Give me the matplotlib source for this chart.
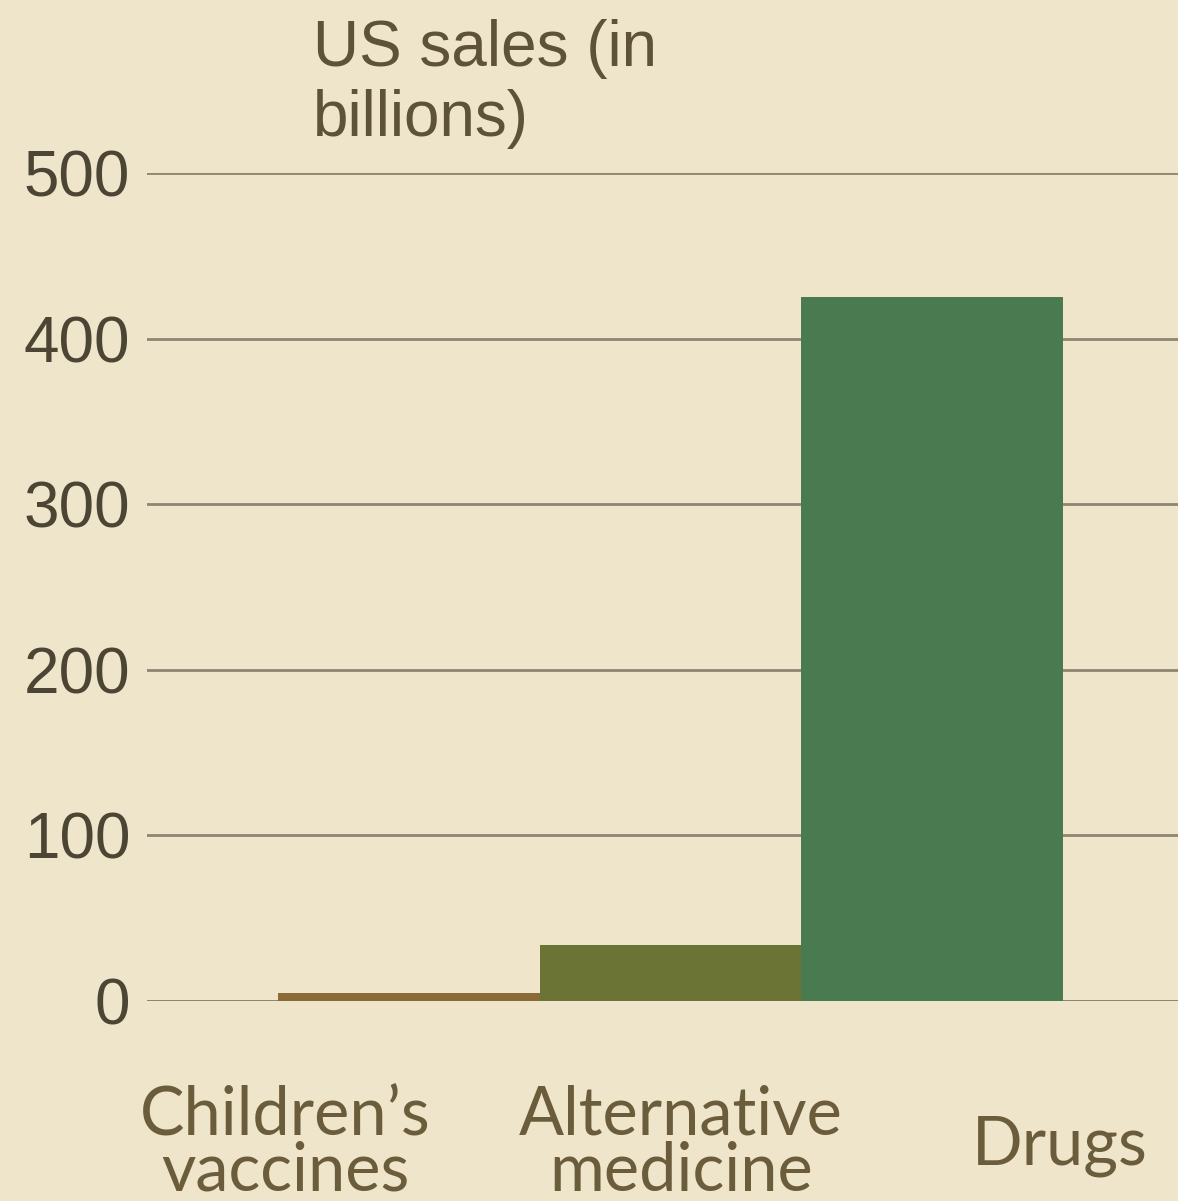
import matplotlib
matplotlib.use("Agg")
import matplotlib.pyplot as plt
import matplotlib.transforms as mtransforms

# data
categories = ["Children\u2019s\nvaccines", "Alternative\nmedicine", "Drugs"]
sales = [5, 34, 425]
bar_colors = ["#8a6a36", "#6b7434", "#4a7a50"]
yticks = [0, 100, 200, 300, 400, 500]

bg = "#eee5cb"
grid_col = "#8c8672"
tick_col = "#4d4534"
label_col = "#6b5c3b"

fig = plt.figure(figsize=(11.78, 12.01), dpi=100)
fig.patch.set_facecolor(bg)
ax = fig.add_axes([0.1248, 0.1665, 0.8752, 0.6895])
ax.set_facecolor(bg)

x = list(range(len(categories)))
ax.bar(x, sales, width=1.0, color=bar_colors, zorder=3)

ax.set_xlim(-1.0, 2.94)
ax.set_ylim(0, 500)
ax.set_yticks(yticks)
ax.set_yticklabels([str(t) for t in yticks], fontsize=46,
                   family=["Liberation Sans"], color=tick_col)
ax.yaxis.grid(True, color=grid_col, linewidth=2, zorder=1)
ax.tick_params(axis="y", length=0, pad=12)
ax.set_xticks([])
for s in ax.spines.values():
    s.set_visible(False)
ax.axhline(0, color=grid_col, linewidth=2, zorder=2)

# category labels sit off-centre in the original
offsets = [-0.47, 0.04, 0.49]
trans = mtransforms.blended_transform_factory(ax.transData, fig.transFigure)
for i, (cat, off) in enumerate(zip(categories, offsets)):
    if "\n" in cat:
        ax.text(i + off, 0.097, cat, transform=trans, ha="center", va="top",
                fontsize=48, family=["Lato", "DejaVu Sans"], color=label_col,
                linespacing=0.88, clip_on=False)
    else:
        ax.text(i + off, 0.046, cat, transform=trans, ha="center", va="center",
                fontsize=48, family=["Lato", "DejaVu Sans"], color=label_col,
                clip_on=False)

fig.text(0.2657, 0.984, "US sales (in\nbillions)", ha="left", va="top",
         fontsize=46, family=["Liberation Sans"], color="#5e5238",
         linespacing=1.2)

fig.savefig("out.png", dpi=100, facecolor=bg)
